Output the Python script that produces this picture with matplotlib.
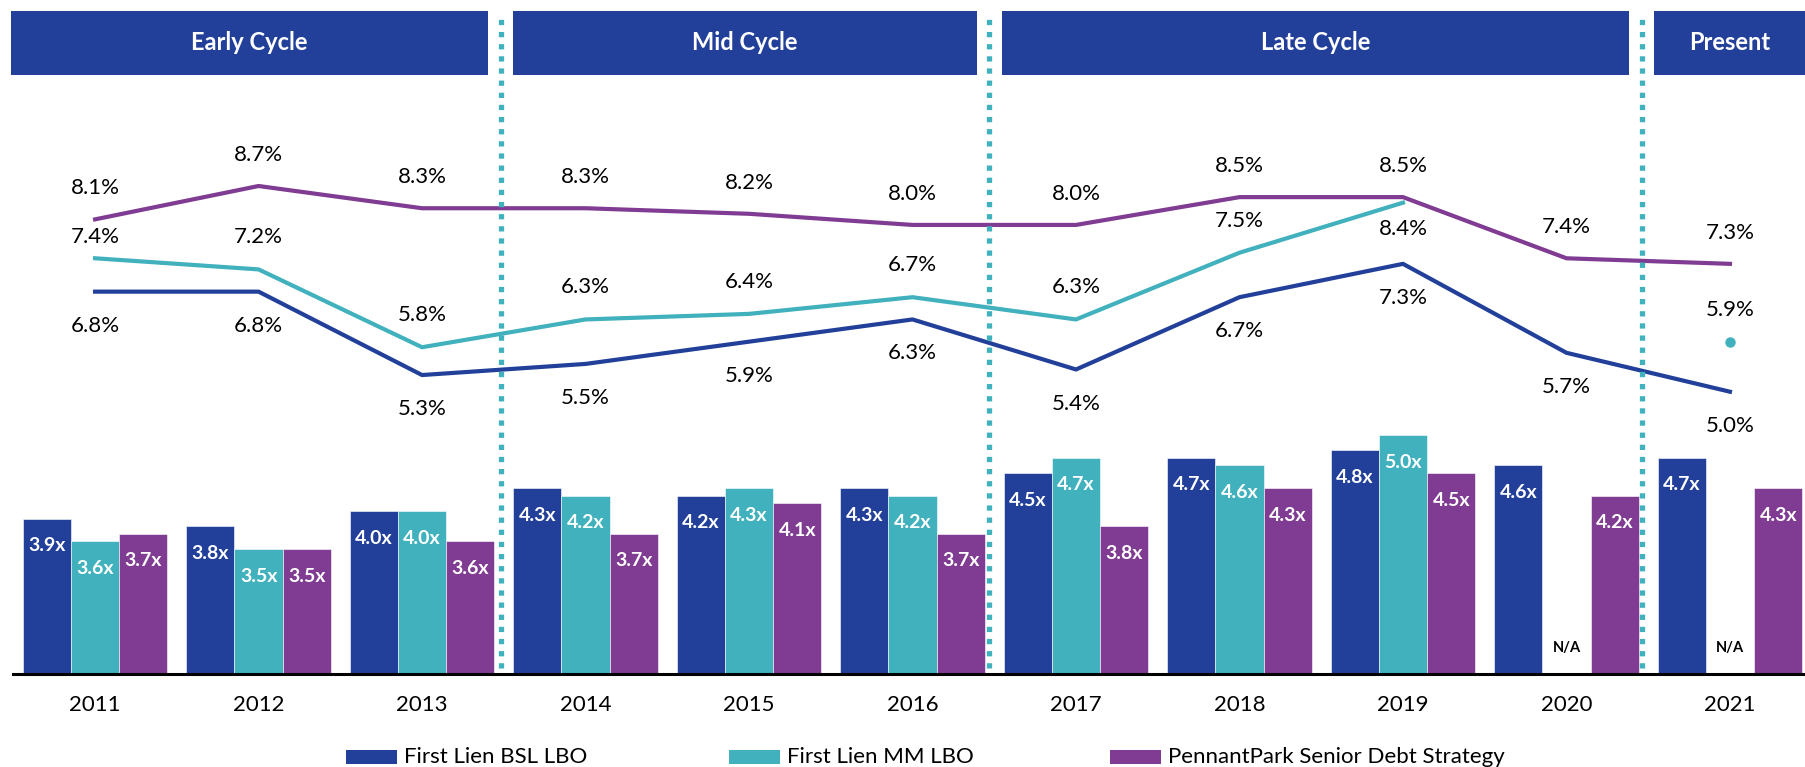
import numpy as np
import matplotlib.pyplot as plt
from matplotlib.patches import Rectangle
from matplotlib.lines import Line2D
from matplotlib.transforms import blended_transform_factory

plt.rcParams['font.family'] = ['Lato', 'DejaVu Sans']

years = ['2011', '2012', '2013', '2014', '2015', '2016', '2017', '2018', '2019', '2020', '2021']

# leverage (bars), x
bsl_lev = [3.9, 3.8, 4.0, 4.3, 4.2, 4.3, 4.5, 4.7, 4.8, 4.6, 4.7]
mm_lev = [3.6, 3.5, 4.0, 4.2, 4.3, 4.2, 4.7, 4.6, 5.0, np.nan, np.nan]
pp_lev = [3.7, 3.5, 3.6, 3.7, 4.1, 3.7, 3.8, 4.3, 4.5, 4.2, 4.3]

# yields (lines), %
bsl_yld = [6.8, 6.8, 5.3, 5.5, 5.9, 6.3, 5.4, 6.7, 7.3, 5.7, 5.0]
mm_yld = [7.4, 7.2, 5.8, 6.3, 6.4, 6.7, 6.3, 7.5, 8.4, np.nan, 5.9]
pp_yld = [8.1, 8.7, 8.3, 8.3, 8.2, 8.0, 8.0, 8.5, 8.5, 7.4, 7.3]

series = ['First Lien BSL LBO', 'First Lien MM LBO', 'PennantPark Senior Debt Strategy']
phases = ['Early Cycle', 'Mid Cycle', 'Late Cycle', 'Present']
phase_breaks = [2.48, 5.47, 9.46]

blue = '#22409A'
teal = '#40B1BD'
purple = '#803C92'
colors = [blue, teal, purple]

W, H = 1805, 767
fig = plt.figure(figsize=(W / 100, H / 100), dpi=100)
ax = fig.add_axes([13 / W, 93 / H, 1 - 13 / W, 584 / H])
ax.set_xlim(-0.502, 10.459)
ax.set_ylim(1.855, 1.855 + 584 / 76)

x = np.arange(len(years))
bw = 0.295
for k, (vals, c) in enumerate(zip([bsl_lev, mm_lev, pp_lev], colors)):
    xs = x + (k - 1) * bw
    for xi, v in zip(xs, vals):
        if np.isnan(v):
            ax.annotate('N/A', (xi, 1.855), xytext=(0, 19), textcoords='offset points',
                        ha='center', va='center', fontsize=10.5, fontweight='bold', color='black')
            continue
        ax.bar(xi, v - 1.855, bottom=1.855, width=bw, color=c, edgecolor='white', linewidth=0.4)
        ax.annotate(f'{v:.1f}x', (xi, v), xytext=(0, -19.5), textcoords='offset points',
                    ha='center', va='center', fontsize=14, fontweight='bold', color='white')

ax.set_xticks(x, years)
ax.tick_params(axis='x', length=0, pad=15, labelsize=16)
ax.set_yticks([])
for s in ['left', 'right', 'top']:
    ax.spines[s].set_visible(False)
ax.spines['bottom'].set_linewidth(2.2)
ax.spines['bottom'].set_color('black')

ax2 = ax.twinx()
ax2.set_ylim(-0.077, 8.7 + 96 / 55.6)
ax2.set_yticks([])
for s in ax2.spines.values():
    s.set_visible(False)

ax2.plot(x, pp_yld, color=purple, lw=3)
ax2.plot(x, mm_yld, color=teal, lw=3)
ax2.plot(x, bsl_yld, color=blue, lw=3)
ax2.plot(x[-1], mm_yld[-1], 'o', color=teal, ms=6.5)

def label(vals, offs):
    for xi, v, o in zip(x, vals, offs):
        if np.isnan(v):
            continue
        ax2.annotate(f'{v:.1f}%', (xi, v), xytext=(0, o), textcoords='offset points',
                     ha='center', va='center', fontsize=16, color='black')

label(pp_yld, [22.5] * 11)
label(bsl_yld, [-24.5] * 11)
label(mm_yld, [15] + [23] * 7 + [-19, 0, 23])

tr = blended_transform_factory(ax.transData, fig.transFigure)
for b in phase_breaks:
    fig.add_artist(Line2D([b, b], [(H - 668) / H, (H - 14) / H], transform=tr, color=teal,
                          lw=3.8, linestyle=(0, (1, 1.3)), dash_capstyle='butt'))

edges = [-0.514] + phase_breaks + [10.459]
gap = 0.078
for i, name in enumerate(phases):
    x0 = edges[i] + (gap if i > 0 else 0)
    x1 = edges[i + 1] - (gap if i < len(phases) - 1 else 0)
    fig.add_artist(Rectangle((x0, (H - 75) / H), x1 - x0, 64 / H, transform=tr,
                             facecolor=blue, edgecolor='none'))
    fig.text((x0 + x1) / 2, (H - 43) / H, name, transform=tr, ha='center', va='center',
             fontsize=17, fontweight='bold', color='white')

leg_x = [346, 729, 1110]
for lx, name, c in zip(leg_x, series, colors):
    fig.add_artist(Rectangle((lx / W, (H - 764) / H), 51 / W, 14 / H, transform=fig.transFigure,
                             facecolor=c, edgecolor='none'))
    fig.text((lx + 58) / W, (H - 757) / H, name, ha='left', va='center', fontsize=16, color='black')

fig.savefig('out.png', dpi=100)
